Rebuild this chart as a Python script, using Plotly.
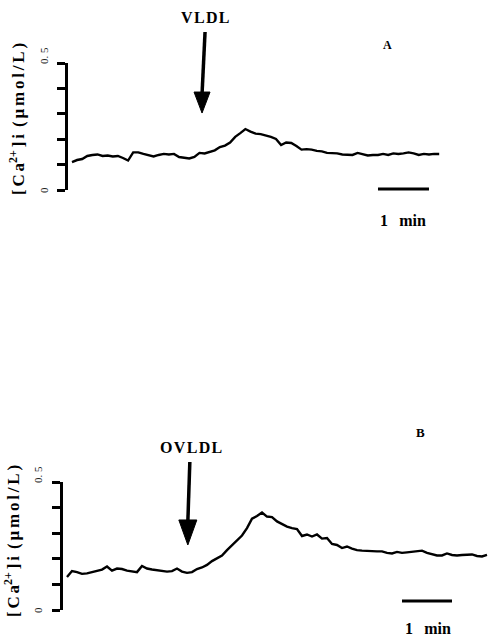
import plotly.graph_objects as go

# ---------------- data ----------------
# Panel A: VLDL, sampled every 6 s
step_a = 6
ca_a = [0.110, 0.118, 0.122, 0.134, 0.138, 0.140, 0.134, 0.136, 0.132, 0.134,
        0.126, 0.116, 0.148, 0.148, 0.142, 0.136, 0.132, 0.138, 0.142, 0.140,
        0.142, 0.130, 0.128, 0.124, 0.130, 0.146, 0.144, 0.150, 0.156, 0.169,
        0.175, 0.187, 0.209, 0.224, 0.240, 0.230, 0.222, 0.220, 0.215, 0.209,
        0.201, 0.177, 0.187, 0.185, 0.173, 0.159, 0.161, 0.159, 0.154, 0.152,
        0.146, 0.146, 0.144, 0.140, 0.140, 0.138, 0.146, 0.140, 0.136, 0.138,
        0.138, 0.142, 0.138, 0.144, 0.142, 0.144, 0.148, 0.144, 0.138, 0.142,
        0.140, 0.142, 0.142]

# Panel B: OVLDL, sampled every 6 s
step_b = 6
ca_b = [0.129, 0.152, 0.148, 0.141, 0.143, 0.148, 0.154, 0.158, 0.170, 0.154,
        0.162, 0.160, 0.154, 0.152, 0.148, 0.172, 0.162, 0.158, 0.156, 0.154,
        0.150, 0.152, 0.162, 0.150, 0.145, 0.148, 0.160, 0.166, 0.176, 0.191,
        0.201, 0.213, 0.234, 0.254, 0.271, 0.291, 0.320, 0.357, 0.367, 0.381,
        0.365, 0.363, 0.346, 0.336, 0.326, 0.320, 0.316, 0.289, 0.295, 0.287,
        0.295, 0.279, 0.281, 0.258, 0.254, 0.242, 0.248, 0.240, 0.234, 0.232,
        0.232, 0.230, 0.229, 0.229, 0.223, 0.221, 0.227, 0.223, 0.225, 0.227,
        0.229, 0.232, 0.223, 0.217, 0.213, 0.213, 0.221, 0.215, 0.213, 0.215,
        0.215, 0.217, 0.211, 0.209, 0.215]

t_a = [i * step_a for i in range(len(ca_a))]
t_b = [i * step_b for i in range(len(ca_b))]

y_ticks = [0, 0.1, 0.2, 0.3, 0.4, 0.5]
y_label_vals = [0, 0.5]
y_label_text = ["0", "0. 5"]

agent_a = "VLDL"
agent_b = "OVLDL"
agent_time_a = 153      # s, time of addition (arrow tip)
agent_time_b = 145
agent_level_a = 0.303   # arrow tip level
agent_level_b = 0.254
panel_a = "A"
panel_b = "B"
scale_label = "1\u2002\u2009min"

# ---------------- figure ----------------
W, H = 489, 640
SERIF = "Liberation Serif"
HS = "\u200a"   # hair space
SS = "\u2006"   # six-per-em space

XR_A = [-4.7, 490.6]
XR_B = [-4.8, 506.4]
YR = [0, 0.5]


def spaced(s, sep=HS):
    return sep.join(s)


fig = go.Figure()
fig.add_trace(go.Scatter(x=t_a, y=ca_a, mode="lines",
                         line=dict(color="black", width=2.4),
                         xaxis="x", yaxis="y", hoverinfo="skip"))
fig.add_trace(go.Scatter(x=t_b, y=ca_b, mode="lines",
                         line=dict(color="black", width=2.4),
                         xaxis="x2", yaxis="y2", hoverinfo="skip"))


def px(v):
    return v / W


def py(v):
    return 1 - v / H


yaxis_common = dict(range=YR, tickvals=y_ticks, showticklabels=False,
                    showline=True, linecolor="black", linewidth=2.5,
                    ticks="outside", ticklen=8, tickwidth=2.5, tickcolor="black",
                    showgrid=False, zeroline=False, fixedrange=True)

fig.update_layout(
    width=W, height=H, margin=dict(l=0, r=0, t=0, b=0),
    paper_bgcolor="white", plot_bgcolor="white", showlegend=False,
    xaxis=dict(domain=[px(68), 1], range=XR_A, visible=False, fixedrange=True),
    yaxis=dict(domain=[py(190), py(63)], anchor="x", **yaxis_common),
    xaxis2=dict(domain=[px(63), 1], range=XR_B, visible=False, fixedrange=True),
    yaxis2=dict(domain=[py(610), py(482)], anchor="x2", **yaxis_common),
)


def label(text, x, y, size, angle=0):
    return dict(text="<b>" + text + "</b>", x=px(x), y=py(y),
                xref="paper", yref="paper", xanchor="center", yanchor="middle",
                showarrow=False, textangle=angle,
                font=dict(family=SERIF, size=size, color="black"))


title_txt = (spaced("[Ca", SS) + "<sup>2+</sup>" + SS + spaced("]i", SS) + " " + SS
             + spaced("(μmol/L)", SS))
ann = [
    label(title_txt, 17, 119, 17, -90),
    label(title_txt, 12, 541, 17, -90),
    label(spaced(agent_a), 205, 17, 16),
    label(spaced(agent_b), 191, 447, 16),
    label(panel_a, 387, 45, 12),
    label(panel_b, 420, 432, 13),
    label(scale_label, 403, 220, 16),
    label(scale_label, 428, 628, 16),
]
# rotated y tick labels, placed on the axis values
for yref, xpos in [("y", 44), ("y2", 38)]:
    for val, txt in zip(y_label_vals, y_label_text):
        ann.append(dict(text=txt, x=px(xpos), y=val, xref="paper", yref=yref,
                        xanchor="center", yanchor="middle", showarrow=False,
                        textangle=-90, yshift=7 if val > 0 else 0,
                        font=dict(family=SERIF, size=11, color="#222")))
fig.update_layout(annotations=ann)

shapes = []
# scale bars (60 s) in time units
shapes.append(dict(type="line", xref="x", yref="paper", x0=360, x1=420,
                   y0=py(189), y1=py(189), line=dict(color="black", width=3)))
shapes.append(dict(type="line", xref="x2", yref="paper", x0=402, x1=462,
                   y0=py(601), y1=py(601), line=dict(color="black", width=3)))

# arrows: tip anchored at the addition time/level (as fractions of the axis
# domains so they are not clipped to the plotting area), drawn in pixel units
for xr, yr, xrng, tt, vv, hw, hl, top, lean in [
        ("x domain", "y domain", XR_A, agent_time_a, agent_level_a, 8, 21, 81, 3),
        ("x2 domain", "y2 domain", XR_B, agent_time_b, agent_level_b, 9, 25, 83, 2)]:
    xa = (tt - xrng[0]) / (xrng[1] - xrng[0])
    ya = (vv - YR[0]) / (YR[1] - YR[0])
    shapes.append(dict(type="path", xref=xr, yref=yr, xsizemode="pixel",
                       ysizemode="pixel", xanchor=xa, yanchor=ya,
                       path=f"M {-hw},{hl} L {hw},{hl} L 0,0 Z",
                       fillcolor="black", line=dict(color="black", width=1)))
    shapes.append(dict(type="line", xref=xr, yref=yr, xsizemode="pixel",
                       ysizemode="pixel", xanchor=xa, yanchor=ya,
                       x0=0, y0=hl - 2, x1=lean, y1=top,
                       line=dict(color="black", width=3.5)))
fig.update_layout(shapes=shapes)

fig.write_html("out.html", config={"displayModeBar": False},
               post_script="document.body.style.margin='0';"
                           "document.body.style.overflow='hidden';")
